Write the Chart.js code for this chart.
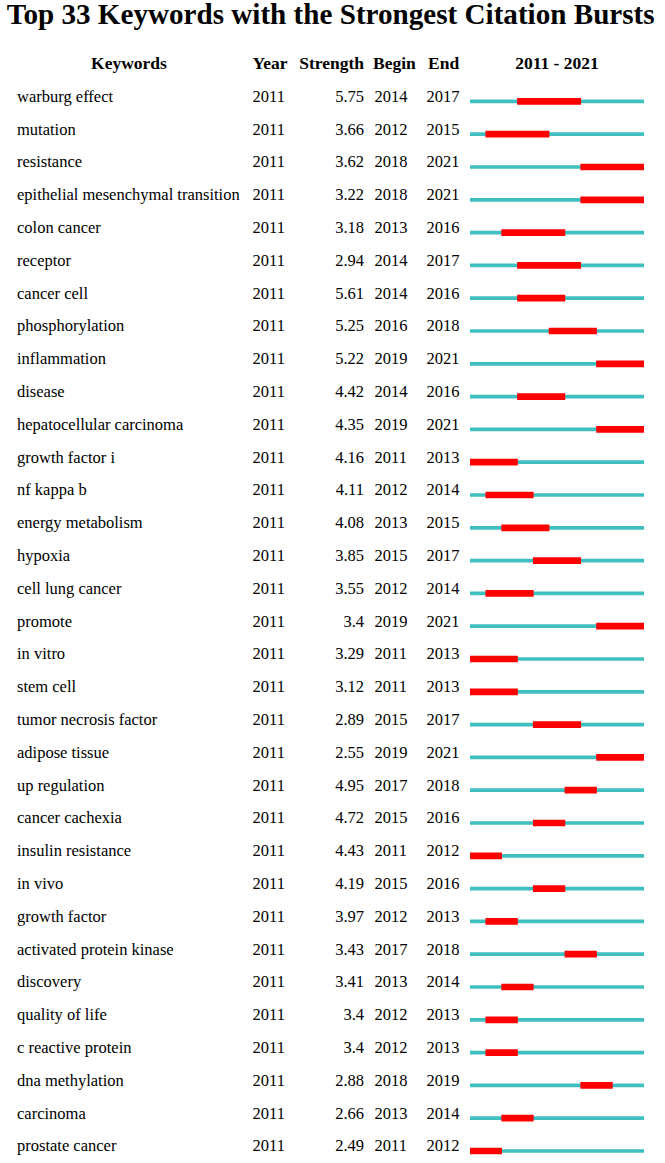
<!DOCTYPE html>
<html>
<head>
<meta charset="utf-8">
<script src="https://cdn.jsdelivr.net/npm/chart.js@4"></script>
<style>
  html, body { margin: 0; padding: 0; background: #fff; overflow: hidden; }
  body { width: 665px; height: 1163px; position: relative; font-family: 'Liberation Serif', 'Times New Roman', serif; color: #000; }
  #title { position: absolute; left: 0; top: -2px; width: 662px; text-align: center; font-weight: bold; font-size: 29px; line-height: 32px; white-space: nowrap; }
  #title span { display: inline-block; transform-origin: center; }
  .hd { position: absolute; font-weight: bold; font-size: 17.5px; line-height: 16px; white-space: nowrap; }
  .cell { position: absolute; font-size: 16.5px; line-height: 16px; white-space: nowrap; }
  #chartBox { position: absolute; left: 470px; width: 174px; }
</style>
</head>
<body>
<div id="title"><span>Top 33 Keywords with the Strongest Citation Bursts</span></div>
<div id="rows"></div>
<div id="chartBox"><canvas id="burst"></canvas></div>
<script>
const keywords = [
  'warburg effect', 'mutation', 'resistance', 'epithelial mesenchymal transition', 'colon cancer',
  'receptor', 'cancer cell', 'phosphorylation', 'inflammation', 'disease',
  'hepatocellular carcinoma', 'growth factor i', 'nf kappa b', 'energy metabolism', 'hypoxia',
  'cell lung cancer', 'promote', 'in vitro', 'stem cell', 'tumor necrosis factor',
  'adipose tissue', 'up regulation', 'cancer cachexia', 'insulin resistance', 'in vivo',
  'growth factor', 'activated protein kinase', 'discovery', 'quality of life', 'c reactive protein',
  'dna methylation', 'carcinoma', 'prostate cancer'
];
const years = new Array(33).fill(2011);
const strength = [
  5.75, 3.66, 3.62, 3.22, 3.18, 2.94, 5.61, 5.25, 5.22, 4.42,
  4.35, 4.16, 4.11, 4.08, 3.85, 3.55, 3.4, 3.29, 3.12, 2.89,
  2.55, 4.95, 4.72, 4.43, 4.19, 3.97, 3.43, 3.41, 3.4, 3.4,
  2.88, 2.66, 2.49
];
const begin = [
  2014, 2012, 2018, 2018, 2013, 2014, 2014, 2016, 2019, 2014,
  2019, 2011, 2012, 2013, 2015, 2012, 2019, 2011, 2011, 2015,
  2019, 2017, 2015, 2011, 2015, 2012, 2017, 2013, 2012, 2012,
  2018, 2013, 2011
];
const end = [
  2017, 2015, 2021, 2021, 2016, 2017, 2016, 2018, 2021, 2016,
  2021, 2013, 2014, 2015, 2017, 2014, 2021, 2013, 2013, 2017,
  2021, 2018, 2016, 2012, 2016, 2013, 2018, 2014, 2013, 2013,
  2019, 2014, 2012
];
const firstYear = 2011;
const lastYear = 2021;

// row geometry (px)
const rowTop0 = 84.6;
const rowH = 32.8;
const textShift = -12.2; // text box top relative to bar centre

const rows = document.getElementById('rows');
function put(cls, text, left, top, align, width) {
  const d = document.createElement('div');
  d.className = cls;
  d.textContent = text;
  d.style.top = top + 'px';
  if (align === 'right') { d.style.left = (left - width) + 'px'; d.style.width = width + 'px'; d.style.textAlign = 'right'; }
  else if (align === 'center') { d.style.left = (left - width / 2) + 'px'; d.style.width = width + 'px'; d.style.textAlign = 'center'; }
  else d.style.left = left + 'px';
  rows.appendChild(d);
}

const hdTop = 54.5;
put('hd', 'Keywords', 129, hdTop, 'center', 120);
put('hd', 'Year', 252.5, hdTop);
put('hd', 'Strength', 364, hdTop, 'right', 90);
put('hd', 'Begin', 373, hdTop);
put('hd', 'End', 428, hdTop);
put('hd', firstYear + ' - ' + lastYear, 557, hdTop, 'center', 140);

keywords.forEach((k, i) => {
  const cy = rowTop0 + (i + 0.5) * rowH;
  const t = cy + textShift;
  put('cell', k, 17, t);
  put('cell', String(years[i]), 252.5, t);
  put('cell', String(strength[i]), 364, t, 'right', 60);
  put('cell', String(begin[i]), 374.5, t);
  put('cell', String(end[i]), 426.5, t);
});

// fit title to the picture width
const tspan = document.querySelector('#title span');
const tw = tspan.getBoundingClientRect().width;
tspan.style.transform = 'scaleX(' + (648 / tw) + ')';

const box = document.getElementById('chartBox');
box.style.top = rowTop0 + 'px';
box.style.height = (rowH * keywords.length) + 'px';

new Chart(document.getElementById('burst'), {
  type: 'bar',
  data: {
    labels: keywords,
    datasets: [
      {
        label: 'burst',
        data: keywords.map((k, i) => [begin[i], end[i] + 1]),
        backgroundColor: '#ff0000',
        barThickness: 6,
        grouped: false,
        order: 0
      },
      {
        label: 'span',
        data: keywords.map(() => [firstYear, lastYear + 1]),
        backgroundColor: '#3fbfbf',
        barThickness: 3,
        grouped: false,
        order: 1
      }
    ]
  },
  options: {
    indexAxis: 'y',
    responsive: true,
    maintainAspectRatio: false,
    animation: false,
    layout: { padding: 0 },
    plugins: { legend: { display: false }, tooltip: { enabled: false } },
    scales: {
      x: { type: 'linear', min: firstYear, max: lastYear + 1, display: false },
      y: { display: false, offset: true }
    }
  }
});
</script>
</body>
</html>
